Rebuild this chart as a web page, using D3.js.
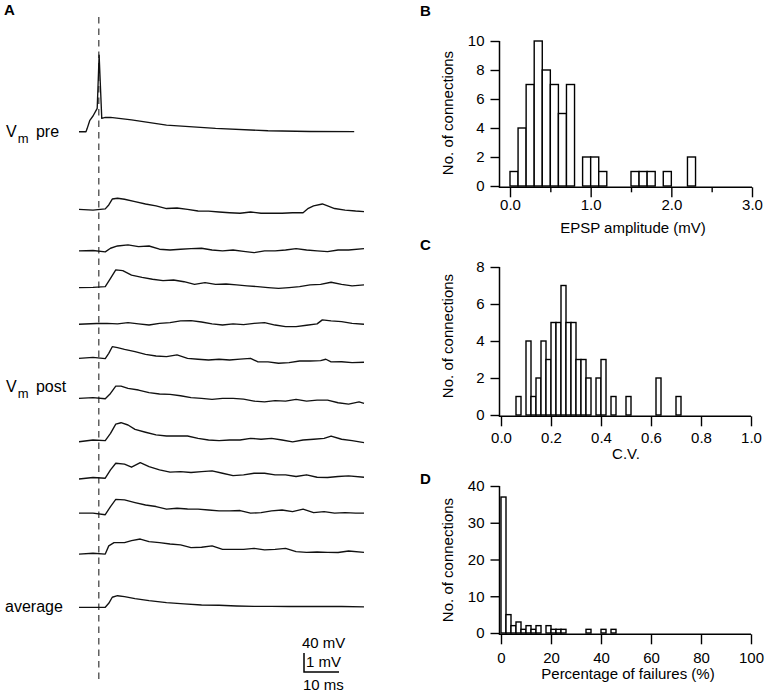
<!DOCTYPE html>
<html><head><meta charset="utf-8">
<script src="https://cdn.jsdelivr.net/npm/d3@7"></script>
<style>
body{margin:0;background:#fff}
svg{display:block}
text{font-family:"Liberation Sans",Arial,Helvetica,sans-serif;fill:#000}
</style>
</head><body>
<svg id="fig" width="767" height="696"></svg>
<script>
// ---------------- DATA ----------------
// Panel A: presynaptic action potential (time ms, mV relative to rest)
const spikeTime_ms = 5.65;
const preTrace = [[0,0],[2.0,0],[2.3,6],[3.1,24],[4.0,33],[5.2,49],[5.75,161],[6.5,28],[7.5,30],[9,30],[15,25],[25,14],[39,7],[54,2],[66,0.5],[78.6,0]];
// Panel A: postsynaptic single sweeps (time ms, mV relative to pre-stimulus level)
const postSweep1 = [[0,0],[4,-0.04],[7.5,0.02],[8.5,0.23],[9.5,0.54],[11,0.58],[13,0.53],[16,0.40],[19,0.28],[22,0.18],[25,0.04],[28,0.07],[31,0],[34,-0.09],[37,-0.1],[40,-0.14],[43,-0.18],[46,-0.21],[49,-0.14],[52,-0.21],[55,-0.21],[58,-0.21],[61,-0.18],[64,-0.18],[65.5,0.05],[67,0.18],[69.5,0.28],[71,0.18],[73,0.04],[76,-0.04],[79,-0.09],[81.4,-0.12]];
const postSweep2 = [[0,0],[4,0.02],[7.5,-0.05],[9,0.14],[11,0.26],[14,0.32],[17,0.23],[20,0.26],[23,0.09],[26,0.05],[29,0.09],[32,0.12],[35,0.14],[38,0.05],[41,0],[44,0.05],[47,-0.02],[50,-0.09],[53,0],[56,0],[59,0.05],[62,0.12],[65,0.05],[68,0],[71,-0.04],[74,0.05],[77,0.05],[81.4,0.12]];
const postSweep3 = [[0,-0.05],[4,-0.04],[7.5,0],[9,0.44],[10.5,0.88],[12.5,0.84],[15,0.61],[18,0.49],[21,0.39],[24,0.32],[27,0.35],[30,0.26],[33,0.12],[36,0.21],[39,0.12],[42,0.14],[45,0.09],[48,0.04],[51,0],[54,-0.05],[57,-0.09],[60,-0.05],[63,0],[66,0.09],[69,0.12],[72,0.23],[75,0.12],[78,0.04],[81.4,0.09]];
const postSweep4 = [[0,0],[5,0.04],[8,0.05],[11,0.02],[14,0.09],[17,0.02],[20,-0.04],[23,0.05],[26,0.09],[29,0.18],[32,0.19],[35,0.12],[38,0.02],[41,-0.04],[44,0.02],[47,-0.02],[50,0.05],[53,0.09],[56,-0.04],[59,-0.12],[62,-0.12],[65,-0.05],[68,0.02],[69.5,0.23],[72,0.18],[75,0.14],[78,0.05],[81.4,0]];
const postSweep5 = [[0,0],[4,0.05],[7.5,-0.02],[8.5,0.26],[9.5,0.61],[11,0.56],[13,0.47],[16,0.35],[19,0.21],[22,0.12],[25,0.09],[28,0.18],[31,0],[34,-0.05],[37,-0.09],[40,-0.05],[43,-0.09],[46,-0.04],[49,0],[51,-0.18],[54,-0.19],[57,-0.26],[60,-0.23],[63,-0.14],[66,-0.14],[69,-0.12],[70.5,-0.05],[72,-0.19],[75,-0.18],[78,-0.23],[81.4,-0.21]];
const postSweep6 = [[0,0],[4,0.04],[7.5,-0.02],[9,0.26],[10.5,0.65],[12,0.65],[14,0.53],[17,0.44],[20,0.30],[23,0.23],[26,0.21],[29,0.14],[32,0.04],[35,0],[38,-0.05],[41,0],[44,0],[47,-0.04],[50,-0.14],[53,-0.18],[56,-0.12],[59,-0.14],[62,-0.05],[65,-0.14],[68,-0.09],[71,-0.09],[74,-0.23],[77,-0.30],[80,-0.18],[81.4,-0.26]];
const postSweep7 = [[0,-0.04],[4,0.05],[7.5,0.02],[9,0.40],[10.5,0.89],[12,0.96],[14,0.84],[16,0.61],[19,0.46],[22,0.32],[25,0.26],[28,0.26],[31,0.26],[34,0.14],[37,0.05],[40,0.02],[43,0.05],[46,0.05],[49,0.14],[52,0.09],[55,0.14],[58,0.05],[61,-0.05],[64,0.05],[67,0.09],[70,0.14],[72,0.26],[75,0.09],[78,0.02],[81.4,-0.09]];
const postSweep8 = [[0,-0.04],[4,0.04],[7.5,0],[9,0.44],[10.5,0.79],[13,0.74],[15,0.58],[17.5,0.82],[20,0.61],[23,0.44],[26,0.32],[29,0.35],[32,0.30],[35,0.35],[38,0.39],[41,0.26],[44,0.14],[47,0.18],[50,0.26],[53,0.26],[56,0.18],[59,0.18],[62,0.09],[65,0.18],[68,0.05],[71,0.04],[74,0.09],[77,0.12],[81.4,0.05]];
const postSweep9 = [[0,0.04],[4,0.04],[7.5,-0.04],[9,0.39],[10.5,0.77],[13,0.74],[16,0.60],[19,0.47],[22,0.39],[25,0.25],[28,0.30],[31,0.26],[34,0.25],[37,0.21],[40,0.16],[43,0.16],[46,0.18],[49,0.04],[52,0.07],[55,0.16],[58,0.21],[61,0.12],[64,0.25],[67,0.07],[70,0.12],[73,0.04],[76,0.07],[79,0.04],[81.4,0.04]];
const postSweep10 = [[0,-0.04],[4,0],[7.5,-0.04],[8.5,0.39],[10,0.56],[13,0.56],[15,0.67],[17.5,0.75],[20,0.61],[23,0.56],[26,0.49],[29,0.44],[32,0.30],[35,0.32],[38,0.39],[41,0.21],[44,0.21],[47,0.21],[50,0.26],[53,0.18],[56,0.21],[59,0.26],[62,0.09],[65,0.05],[68,0.07],[71,0.05],[74,0.04],[77,0.12],[81.4,0.05]];
const postSweeps = [postSweep1,postSweep2,postSweep3,postSweep4,postSweep5,postSweep6,postSweep7,postSweep8,postSweep9,postSweep10];
// resting-level differences between sweeps (mV)
const sweepRestOffset = [0,-0.18,-0.05,-0.02,0.2,0.1,-0.13,-0.08,0.05,-0.01];
const postAverage = [[0,0],[7.5,0],[8.5,0.21],[9.5,0.53],[11,0.61],[13,0.56],[16,0.46],[20,0.35],[25,0.25],[30,0.18],[35,0.12],[40,0.11],[45,0.07],[50,0.05],[55,0.05],[60,0.04],[65,0.04],[70,0.04],[75,0.04],[81.4,0.02]];

// Panel B: EPSP amplitude histogram (bin width 0.1 mV from 0)
const epspBinWidth = 0.1;
const epspCounts = [1,4,7,10,8,7,5,7,0,2,2,1,0,0,0,1,1,1,0,1,0,0,2];
const epspXTicks = [0,1,2,3];
const epspXMinor = [0.5,1.5,2.5];
const epspYTicks = [0,2,4,6,8,10];
// Panel C: C.V. histogram (bin width 0.02 from 0)
const cvBinWidth = 0.02;
const cvCounts = [0,0,0,1,0,4,1,2,4,3,5,5,7,5,5,3,3,2,0,2,3,0,1,0,0,1,0,0,0,0,0,2,0,0,0,1];
const cvXTicks = [0,0.2,0.4,0.6,0.8,1.0];
const cvYTicks = [0,2,4,6,8];
// Panel D: failure percentage histogram (bin width 2 % from 0)
const failBinWidth = 2;
const failCounts = [37,5,2,3,1,2,1,2,0,2,1,1,1,0,0,0,0,1,0,0,1,0,1];
const failXTicks = [0,20,40,60,80,100];
const failYTicks = [0,10,20,30,40];

// ---------------- DRAW ----------------
const svg = d3.select("#fig");
const FONT = 15;

// ----- Panel A -----
const tScale = d3.scaleLinear().domain([0, 81.4]).range([79, 364]);
const mV = 19; // px per 1 mV (post) / 40 mV (pre)
const preY = d3.scaleLinear().domain([0, 40]).range([131.7, 131.7 - mV]);
const gA = svg.append("g");

gA.append("text").attr("x", 4).attr("y", 15).attr("font-size", 15).attr("font-weight", "bold").text("A");

// dashed stimulus line
gA.append("line")
  .attr("x1", tScale(spikeTime_ms)).attr("x2", tScale(spikeTime_ms))
  .attr("y1", 17).attr("y2", 681)
  .attr("stroke", "#555").attr("stroke-width", 1.4).attr("stroke-dasharray", "6.5,5");

const lineStyle = sel => sel.attr("fill", "none").attr("stroke", "#111").attr("stroke-width", 1.35).attr("stroke-linejoin", "round");

gA.append("path").datum(preTrace)
  .attr("d", d3.line().x(d => tScale(d[0])).y(d => preY(d[1])))
  .call(lineStyle);

postSweeps.forEach((sw, i) => {
  const base = 209.3 + i * 38.2;
  const y = d3.scaleLinear().domain([0, 1]).range([base, base - mV]);
  gA.append("path").datum(sw)
    .attr("d", d3.line().x(d => tScale(d[0])).y(d => y(d[1] + sweepRestOffset[i])))
    .call(lineStyle);
});
const avgY = d3.scaleLinear().domain([0, 1]).range([607.3, 607.3 - mV]);
gA.append("path").datum(postAverage)
  .attr("d", d3.line().x(d => tScale(d[0])).y(d => avgY(d[1])))
  .call(lineStyle);

// labels
function vmLabel(x, y, word) {
  const t = gA.append("text").attr("x", x).attr("y", y).attr("font-size", 16);
  t.append("tspan").text("V");
  t.append("tspan").attr("font-size", 13).attr("dy", 6).attr("dx", 1).text("m");
  t.append("tspan").attr("dy", -6).attr("dx", 3).text(" " + word);
}
vmLabel(6, 137, "pre");
vmLabel(6, 392, "post");
gA.append("text").attr("x", 5).attr("y", 612).attr("font-size", 16).text("average");

// scale bar
const sbX = 304, sbY = 672;
const sbLen = tScale(10) - tScale(0);
gA.append("path")
  .attr("d", `M${sbX},${sbY - mV}V${sbY}H${sbX + sbLen}`)
  .attr("fill", "none").attr("stroke", "#000").attr("stroke-width", 1.5);
gA.append("text").attr("x", 302).attr("y", 648).attr("font-size", FONT).text("40 mV");
gA.append("text").attr("x", 306).attr("y", 667).attr("font-size", FONT).text("1 mV");
gA.append("text").attr("x", 303).attr("y", 690).attr("font-size", FONT).text("10 ms");

// ----- Histograms -----
function histogram(o) {
  const g = svg.append("g");
  const x = d3.scaleLinear().domain(o.xDomain).range(o.xRange);
  const y = d3.scaleLinear().domain(o.yDomain).range(o.yRange);
  const bins = o.counts.map((c, i) => ({x0: i * o.bw, x1: (i + 1) * o.bw, c})).filter(b => b.c > 0);
  g.selectAll("rect").data(bins).join("rect")
    .attr("x", d => x(d.x0)).attr("width", d => x(d.x1) - x(d.x0))
    .attr("y", d => y(d.c)).attr("height", d => y(0) - y(d.c))
    .attr("fill", "#fff").attr("stroke", "#000").attr("stroke-width", 1.4);
  const axX = 499.5, axY = y(0) + 1.3;
  // y axis
  const ya = g.append("g").attr("transform", `translate(${axX},0)`)
    .call(d3.axisLeft(y).tickValues(o.yTicks).tickSize(9).tickPadding(6).tickFormat(d3.format("d")));
  ya.select(".domain").remove();
  ya.selectAll("line").attr("stroke-width", 1.4);
  ya.selectAll("text").attr("font-size", FONT).attr("font-family", null);
  g.append("line").attr("x1", axX).attr("x2", axX).attr("y1", y(o.yDomain[1])).attr("y2", axY + 0.7)
    .attr("stroke", "#000").attr("stroke-width", 1.5);
  // x axis
  const xa = g.append("g").attr("transform", `translate(0,${axY})`)
    .call(d3.axisBottom(x).tickValues(o.xTicks).tickSize(10).tickPadding(o.xPad).tickFormat(o.xFmt));
  xa.select(".domain").remove();
  xa.selectAll("line").attr("stroke-width", 1.4);
  xa.selectAll("text").attr("font-size", FONT).attr("font-family", null);
  if (o.minor) {
    g.append("g").attr("transform", `translate(0,${axY})`)
      .call(d3.axisBottom(x).tickValues(o.minor).tickSize(5).tickFormat(""))
      .call(s => { s.select(".domain").remove(); s.selectAll("line").attr("stroke-width", 1.4); });
  }
  g.append("line").attr("x1", axX).attr("x2", x(o.xDomain[1])).attr("y1", axY).attr("y2", axY)
    .attr("stroke", "#000").attr("stroke-width", 1.5);
  // titles
  g.append("text").attr("transform", `translate(${o.yTitleX},${o.yTitleY}) rotate(-90)`)
    .attr("text-anchor", "middle").attr("font-size", FONT).text("No. of connections");
  g.append("text").attr("x", o.xTitleX).attr("y", o.xTitleY).attr("text-anchor", "middle")
    .attr("font-size", FONT).text(o.xTitle);
  g.append("text").attr("x", o.labelX).attr("y", o.labelY).attr("font-size", 15).attr("font-weight", "bold").text(o.label);
}

histogram({label: "B", labelX: 420, labelY: 16,
  counts: epspCounts, bw: epspBinWidth,
  xDomain: [0, 3], xRange: [510, 752], yDomain: [0, 10], yRange: [186, 41],
  xTicks: epspXTicks, minor: epspXMinor, yTicks: epspYTicks, xFmt: d3.format(".1f"), xPad: 2,
  xTitle: "EPSP amplitude (mV)", xTitleX: 633, xTitleY: 233, yTitleX: 453, yTitleY: 113});

histogram({label: "C", labelX: 420, labelY: 250,
  counts: cvCounts, bw: cvBinWidth,
  xDomain: [0, 1], xRange: [501, 751], yDomain: [0, 8], yRange: [415, 267],
  xTicks: cvXTicks, yTicks: cvYTicks, xFmt: d3.format(".1f"), xPad: 6,
  xTitle: "C.V.", xTitleX: 626, xTitleY: 459, yTitleX: 453, yTitleY: 336});

histogram({label: "D", labelX: 420, labelY: 484,
  counts: failCounts, bw: failBinWidth,
  xDomain: [0, 100], xRange: [501, 751], yDomain: [0, 40], yRange: [633, 486],
  xTicks: failXTicks, yTicks: failYTicks, xFmt: d3.format("d"), xPad: 8,
  xTitle: "Percentage of failures (%)", xTitleX: 628, xTitleY: 679, yTitleX: 453, yTitleY: 560});
</script>
</body></html>
